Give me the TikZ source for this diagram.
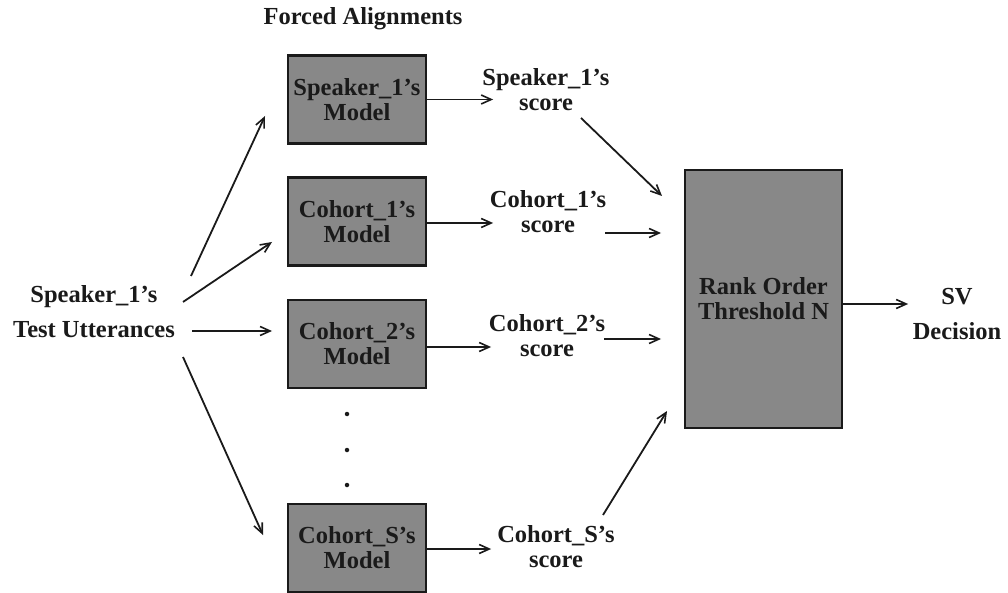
\documentclass[tikz,border=0pt]{standalone}
\usepackage{fontspec}
\setmainfont{Liberation Serif}
\usetikzlibrary{arrows.meta}
\definecolor{ink}{HTML}{1A1A1A}
\definecolor{boxfill}{HTML}{888888}
\tikzset{
  lbl/.style={font=\bfseries\fontsize{24.5}{25}\selectfont, align=center, text=ink, inner sep=0pt},
  widelbl/.style={font=\bfseries\fontsize{24.5}{35}\selectfont, align=center, text=ink, inner sep=0pt},
  modelbox/.style={draw=ink, line width=2.2pt, fill=boxfill, minimum width=138pt, minimum height=88pt, font=\bfseries\fontsize{24.5}{25}\selectfont, align=center, text=ink, inner sep=0pt},
  arr/.style={draw=ink, line width=1.8pt, -{Straight Barb[length=10pt,width=9pt,line width=1.6pt]}},
  dotmark/.style={circle, fill=ink, inner sep=0pt, minimum size=4.5pt}
}
\begin{document}
\begin{tikzpicture}[x=1pt,y=-1pt]
\useasboundingbox (0,0) rectangle (1008,593);
% title
\node[lbl, anchor=base] (title) at (363,25) {Forced Alignments};
% source
\node[widelbl] (src) at (94,312) {Speaker\_1's\\Test Utterances};
% model boxes
\node[modelbox] (m1) at (357,99.5) {Speaker\_1's\\Model};
\node[modelbox] (m2) at (357,221.5) {Cohort\_1's\\Model};
\node[modelbox] (m3) at (357,344) {Cohort\_2's\\Model};
\node[modelbox] (m4) at (357,548) {Cohort\_S's\\Model};
% dots
\node[dotmark] (d1) at (347,414) {};
\node[dotmark] (d2) at (347,450) {};
\node[dotmark] (d3) at (347,485) {};
% scores
\node[lbl] (s1) at (546,90) {Speaker\_1's\\score};
\node[lbl] (s2) at (548,212) {Cohort\_1's\\score};
\node[lbl] (s3) at (547,336) {Cohort\_2's\\score};
\node[lbl] (s4) at (556,547) {Cohort\_S's\\score};
% rank box
\node[modelbox, minimum width=157pt, minimum height=258pt] (rank) at (763.5,299) {Rank Order\\Threshold N};
% decision
\node[widelbl] (dec) at (957,314) {SV\\Decision};
% source -> models
\coordinate (a1s) at (191,276); \coordinate (a1e) at (265,116);
\coordinate (a2s) at (183,302); \coordinate (a2e) at (272,242);
\coordinate (a3s) at (192,331); \coordinate (a3e) at (272,331);
\coordinate (a4s) at (183,357); \coordinate (a4e) at (263,535);
\draw[arr] (a1s) -- (a1e);
\draw[arr] (a2s) -- (a2e);
\draw[arr] (a3s) -- (a3e);
\draw[arr] (a4s) -- (a4e);
% model -> score
\draw[arr] (m1.east) -- ++(66,0);
\draw[arr] ([yshift=-1.5pt]m2.east) -- ++(66,0);
\draw[arr] ([yshift=-3pt]m3.east) -- ++(64,0);
\draw[arr] ([yshift=-1pt]m4.east) -- ++(64,0);
% score -> rank
\coordinate (b1s) at (581,118); \coordinate (b1e) at (662,196);
\coordinate (b2s) at (605,233); \coordinate (b2e) at (661,233);
\coordinate (b3s) at (604,339); \coordinate (b3e) at (661,339);
\coordinate (b4s) at (603,515); \coordinate (b4e) at (667,411);
\draw[arr] (b1s) -- (b1e);
\draw[arr] (b2s) -- (b2e);
\draw[arr] (b3s) -- (b3e);
\draw[arr] (b4s) -- (b4e);
% rank -> decision
\draw[arr] ([yshift=-5pt]rank.east) -- ++(65,0);
\end{tikzpicture}
\end{document}
